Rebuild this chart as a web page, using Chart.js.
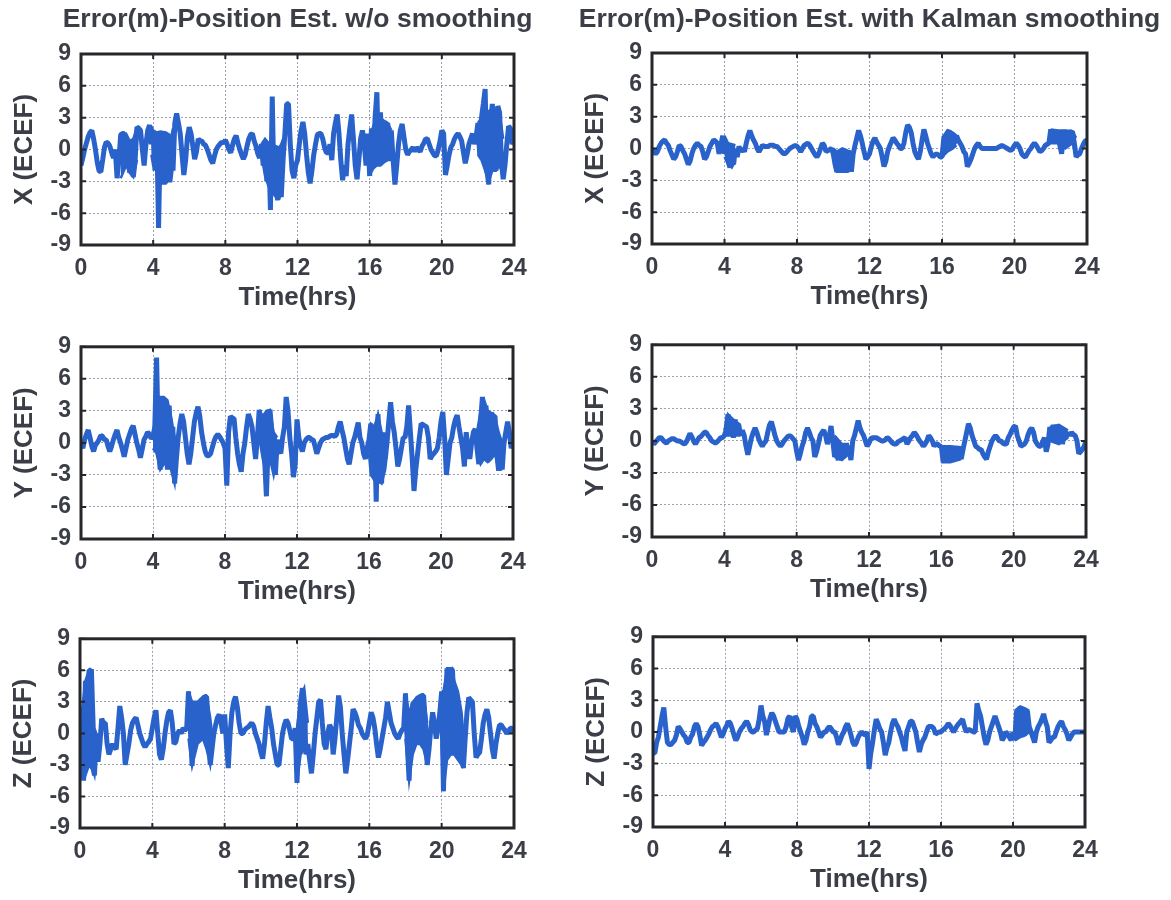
<!DOCTYPE html>
<html>
<head>
<meta charset="utf-8">
<script src="https://cdn.jsdelivr.net/npm/chart.js@4.4.1/dist/chart.umd.min.js"></script>
<style>
html,body{margin:0;padding:0;background:#ffffff;}
#wrap{position:relative;width:1171px;height:900px;overflow:hidden;background:#ffffff;}
canvas{position:absolute;}
</style>
</head>
<body>
<div id="wrap"></div>
<script>
// ---------------- data ----------------
const STEP = 0.1; // hours between samples
const xTicks = [0, 4, 8, 12, 16, 20, 24];
const yTicks = [-9, -6, -3, 0, 3, 6, 9];
const colTitles = ['Error(m)-Position Est. w/o smoothing', 'Error(m)-Position Est. with Kalman smoothing'];
const rowLabels = ['X (ECEF)', 'Y (ECEF)', 'Z (ECEF)'];
const xAxisLabel = 'Time(hrs)';

const xRaw = [
-1.5,-0.8,0.0,0.6,1.2,1.6,1.8,1.0,0.0,-1.2,
-2.0,-2.1,-1.0,0.2,0.7,0.6,0.3,-0.3,-0.8,0.0,
-2.7,-1.0,1.4,1.5,1.5,-1.5,0.5,-2.2,0.8,-2.6,
-1.0,2.1,2.0,1.8,0.0,-1.5,0.5,1.8,2.3,0.5,
1.6,-2.0,1.5,-7.4,1.7,-3.2,1.6,-3.0,1.5,-3.0,
1.2,-2.0,2.5,3.4,2.5,1.5,-0.5,-2.4,-1.0,1.2,
2.1,1.5,0.3,-0.9,-0.2,1.0,0.8,0.8,0.5,0.4,
0.0,-0.5,-1.0,-1.3,-0.6,0.0,0.3,0.5,0.7,0.6,
0.9,0.5,0.0,-0.3,0.4,1.0,1.3,0.6,0.0,-0.5,
-0.9,-0.5,0.3,1.0,1.4,1.5,0.8,0.3,-0.4,-0.8,
0.5,-1.5,0.8,-3.0,0.5,-5.7,5.0,-3.8,0.2,-4.8,
0.0,-4.5,-1.0,1.5,4.3,4.3,0.5,-2.0,-2.7,-1.5,
-1.0,0.5,1.8,2.6,1.5,-0.5,-2.2,-3.2,-2.0,-0.5,
0.5,1.4,1.5,1.5,1.0,0.2,-0.3,-0.3,0.5,-1.0,
1.5,2.5,3.3,1.5,-1.0,-2.9,-1.5,-2.5,0.5,2.0,
3.3,1.0,-1.5,-2.8,-1.0,1.0,1.8,0.5,-1.5,1.5,
-2.5,2.0,-1.5,3.0,5.4,-1.5,3.5,-1.2,2.7,-1.0,
2.5,-0.8,1.8,-1.0,-3.3,-1.5,0.5,1.8,2.4,1.2,
0.0,-0.5,-0.2,0.0,0.2,-0.2,0.2,0.0,-0.2,0.3,
0.6,1.0,1.0,0.5,0.0,-0.3,-0.6,-0.6,0.0,0.8,
1.8,1.5,-2.4,-1.5,-0.5,0.2,0.5,1.0,1.3,1.5,
1.2,0.8,-0.3,-1.3,-0.5,0.5,1.0,1.5,0.5,1.2,
2.5,-0.5,3.0,4.3,5.7,-2.0,-3.3,2.5,4.3,-1.0,
-2.0,4.1,3.5,-1.0,-2.8,-1.5,0.5,2.2,2.0,0.5,
1.0];

const yRaw = [
0.0,-0.5,0.3,0.8,1.2,0.5,-0.3,-0.8,-0.2,0.0,
0.3,0.7,0.6,0.3,0.3,-0.3,-0.8,-0.3,0.3,0.8,
1.2,0.5,0.0,-0.6,-1.3,-0.5,0.3,0.8,1.3,1.6,
0.8,0.0,-0.6,-1.4,-0.6,0.3,0.6,1.0,0.8,0.4,
0.6,1.5,8.0,-0.5,-2.5,4.3,-2.0,4.0,-2.5,3.5,
-1.0,1.5,-3.8,-1.5,0.5,1.8,2.7,2.0,0.5,-1.0,
-2.0,-1.0,0.5,2.0,2.8,3.4,2.5,1.0,0.0,-0.8,
-1.2,-1.2,-1.0,-0.4,0.2,0.6,0.8,0.6,0.3,0.0,
-0.5,-4.0,1.0,2.5,2.3,2.3,0.5,-1.0,-2.0,-2.7,
-1.0,0.0,1.5,2.7,2.2,1.5,0.0,-1.5,0.5,3.1,
1.5,0.5,-1.5,-5.0,0.0,3.1,1.0,-1.5,-3.0,0.3,
-0.5,-1.0,0.5,1.5,4.3,3.0,0.5,-1.0,-3.2,-2.0,
2.2,0.5,-0.3,-0.8,0.0,0.3,0.5,0.5,0.3,0.3,
-0.3,-1.0,-0.5,0.0,0.3,0.4,0.5,0.5,0.6,0.7,
0.7,0.6,0.8,1.5,2.0,1.2,0.5,-0.5,-1.5,-2.0,
-1.0,0.0,0.5,1.2,1.9,0.5,0.0,-1.0,-1.5,-0.5,
0.3,1.8,-3.0,1.5,-5.5,2.7,-2.5,-3.8,1.0,-1.5,
0.0,2.0,3.8,2.0,1.0,-0.5,-2.2,-1.5,-0.5,0.5,
0.5,1.5,3.5,1.0,-1.5,-4.5,-2.5,-1.0,0.5,1.8,
1.7,1.6,1.5,0.5,-1.5,-1.2,-1.0,-0.8,-0.5,0.5,
2.0,2.9,0.5,-3.0,-1.5,0.0,0.5,1.5,2.2,2.6,
1.5,0.5,-0.5,-2.2,1.0,-0.5,-1.5,0.0,1.0,1.3,
-0.5,-2.0,2.0,4.3,2.5,3.5,-1.8,1.0,2.8,2.5,
2.5,-1.0,-2.6,-0.5,-2.5,0.0,1.0,2.0,1.0,-0.5,
0.0];

const zRaw = [
-3.0,2.0,-4.5,5.0,2.0,6.0,6.0,-3.0,-4.0,0.0,
-2.7,-1.0,1.4,1.0,1.0,-1.0,-2.0,-1.5,-1.0,-1.3,
-1.5,0.5,2.6,1.5,0.0,-3.0,-2.0,-1.0,0.3,1.0,
1.3,1.5,0.8,0.0,-0.5,-1.0,-1.3,-1.0,-0.8,-0.5,
0.5,1.5,2.2,0.0,-2.0,-2.5,-1.5,0.0,1.2,2.0,
2.2,1.0,-1.0,-0.8,0.0,0.3,0.0,0.5,0.3,0.5,
4.0,0.5,-3.1,1.0,3.0,2.5,1.5,2.5,3.0,3.5,
3.5,1.0,-3.0,-1.5,0.0,0.8,1.5,1.8,1.0,0.0,
1.8,-1.0,-3.3,0.0,2.0,3.0,3.5,2.5,1.0,0.0,
0.0,0.3,0.5,0.6,0.8,1.0,0.7,0.0,-0.5,-1.0,
-1.8,-2.4,-1.0,1.0,2.6,1.5,0.5,-1.0,-2.0,-3.0,
-3.0,-1.5,0.0,0.8,1.3,1.0,0.3,-0.5,-0.5,0.5,
-4.7,0.5,3.0,4.3,1.0,-2.0,-1.0,-2.5,-3.8,-2.0,
0.0,1.5,3.0,3.2,1.0,-1.0,-1.5,0.0,0.8,0.5,
-2.0,-0.5,1.5,3.6,2.5,0.0,-2.0,-3.8,-2.5,-1.0,
0.5,2.3,2.0,1.5,0.8,0.5,0.0,-0.3,-0.5,0.0,
1.0,2.0,1.5,0.5,-1.0,-2.3,-1.5,-0.5,0.5,1.5,
3.0,2.0,1.0,0.5,0.0,-0.3,-0.5,0.0,0.3,0.5,
3.8,-1.0,-4.5,1.0,2.8,3.0,3.2,3.4,3.5,3.6,
3.6,1.0,-3.0,-1.5,0.5,2.0,1.0,-0.5,0.5,2.0,
4.0,-5.5,2.0,6.2,-1.5,6.2,6.0,2.0,4.0,1.0,
-2.5,-1.5,-3.3,-0.5,2.0,3.4,3.2,3.0,0.0,-2.3,
-2.0,-1.8,-0.5,1.0,1.8,2.3,1.5,0.0,-1.5,-2.4,
-1.0,0.0,0.8,0.8,0.5,0.3,0.0,0.2,0.5,0.5,
0.0];

const xSmooth = [
0.0,-0.3,-0.5,-0.3,0.2,0.5,0.7,0.8,0.5,0.3,
-0.2,-0.6,-1.0,-0.8,-0.3,0.3,0.2,-0.2,-0.5,-1.0,
-1.5,-1.2,-0.5,0.0,0.3,0.5,0.3,0.2,-0.3,-1.0,
-0.8,-0.3,0.2,0.5,0.8,0.7,0.5,-0.5,0.3,1.2,
-0.5,0.3,-1.2,-1.8,0.3,-1.5,0.0,-0.8,0.2,-0.3,
0.0,-0.3,0.5,1.2,1.7,1.2,0.8,0.5,0.0,-0.3,
0.0,0.3,0.2,0.2,0.2,0.3,0.3,0.3,0.2,0.2,
0.0,-0.2,-0.4,-0.5,-0.4,-0.2,0.0,0.1,0.2,0.3,
0.2,0.0,-0.3,0.0,0.3,0.4,0.5,0.3,0.0,-0.3,
-0.6,-0.8,-0.5,0.0,0.5,0.3,-0.3,-0.2,-0.1,0.0,
-0.5,-1.5,-2.2,-0.5,-1.8,-0.3,-2.2,-0.6,-2.0,-0.5,
-2.2,-0.5,0.3,1.0,1.7,1.2,0.5,-0.3,-1.0,-0.8,
-0.5,0.2,0.7,1.0,0.6,0.3,0.0,-0.8,-1.7,-1.2,
-0.3,0.2,0.6,1.0,0.8,0.5,0.3,0.0,0.0,0.5,
1.5,2.2,2.0,1.5,0.5,-0.3,-0.7,-1.0,-0.3,0.8,
1.8,1.2,0.5,0.0,-0.5,-0.8,-0.6,-0.5,-0.6,-0.8,
-0.8,1.0,0.0,1.5,1.7,0.2,1.4,0.5,1.2,0.8,
0.5,0.2,-0.3,-0.5,-1.7,-1.4,-1.0,-0.5,0.0,0.3,
0.5,0.2,0.0,0.0,0.0,0.0,0.0,0.0,0.0,0.0,
0.0,0.1,0.2,0.3,0.2,0.1,0.0,-0.1,-0.2,0.0,
0.3,0.5,0.3,0.0,-0.5,-0.7,-0.8,-0.5,-0.2,0.0,
0.3,0.5,0.3,0.0,-0.3,-0.2,0.0,0.3,0.4,0.5,
1.8,0.8,1.7,1.0,1.6,0.3,-0.5,1.2,1.7,1.0,
1.6,1.5,1.6,0.5,-0.8,-0.6,-0.5,0.0,0.4,0.7,
0.8];

const ySmooth = [
0.0,-0.3,-0.1,0.1,0.3,0.3,0.1,-0.1,-0.2,0.0,
0.1,0.2,0.2,0.1,0.0,0.0,-0.1,-0.2,-0.3,-0.1,
0.3,0.7,0.4,0.0,-0.3,0.0,0.3,0.4,0.6,0.8,
0.8,0.5,0.3,0.0,-0.1,-0.2,-0.1,0.1,0.3,0.3,
0.5,1.0,2.5,0.5,2.0,0.3,2.0,0.5,1.5,0.5,
1.0,0.5,-0.5,-1.3,-0.5,0.3,0.8,1.2,0.8,0.2,
-0.2,-0.5,-0.2,0.0,0.8,1.5,1.8,1.2,0.5,0.0,
-0.3,-0.5,-0.3,0.0,0.2,0.4,0.5,0.4,0.2,0.0,
-1.0,-1.8,-1.2,-0.5,0.0,0.8,1.2,0.8,0.3,0.0,
-1.5,-1.0,-0.3,0.5,0.8,1.0,0.5,-0.3,0.3,1.4,
0.0,-1.5,-1.0,-1.8,-0.3,-1.5,-0.3,-1.2,-0.5,-0.8,
-1.8,0.0,0.5,1.2,1.9,1.2,0.8,0.5,0.0,-0.5,
-0.2,0.2,0.3,0.3,0.3,0.2,0.1,0.0,0.0,0.1,
0.3,0.2,0.0,-0.2,-0.3,-0.3,-0.1,0.0,0.1,0.2,
0.3,-0.3,0.0,0.3,0.5,0.8,0.6,0.3,0.0,-0.2,
-0.5,-0.3,0.0,0.5,0.3,0.0,-0.5,-0.3,-0.3,-0.5,
-0.5,-2.0,-0.5,-2.0,-0.6,-1.9,-0.7,-1.8,-0.5,-1.8,
-0.6,-1.7,-0.8,0.0,0.8,1.6,1.2,0.5,0.0,-0.5,
-0.6,-0.8,-0.8,-1.2,-1.5,-1.7,-1.0,-0.5,0.0,0.3,
0.5,0.3,0.0,0.0,-0.2,-0.3,-0.3,0.3,0.6,1.0,
1.3,1.4,0.5,0.0,-0.5,-0.4,-0.3,0.0,0.6,1.0,
1.2,0.8,0.0,-0.3,-0.5,-0.5,-0.1,0.3,-1.0,-0.3,
1.3,0.2,1.5,0.3,1.2,0.0,1.3,-0.3,1.0,0.3,
0.8,0.5,0.8,0.6,0.5,0.0,-1.2,-1.0,-0.8,-0.5,
0.0];

const zSmooth = [
-2.0,-2.0,-1.0,-0.5,0.5,1.5,2.3,0.5,-1.0,-1.2,
-1.2,-1.0,-0.8,-0.3,0.5,0.3,0.0,-0.3,-0.5,-1.0,
-1.0,-0.5,-0.2,0.5,0.8,0.5,-0.3,-1.3,-1.0,-0.8,
-0.5,-0.2,0.2,0.5,0.6,0.8,0.5,0.0,-0.5,-0.2,
0.3,0.6,1.0,0.8,0.3,-0.3,-0.8,-0.5,0.0,0.3,
0.5,0.8,1.0,0.7,0.2,0.0,0.0,0.2,0.3,1.2,
2.5,1.5,1.0,-0.3,0.5,1.3,1.8,1.5,1.0,0.5,
0.0,0.0,0.0,0.0,0.5,1.3,1.5,0.5,0.0,1.5,
1.2,0.5,0.0,-0.5,-1.2,-0.8,0.0,0.5,1.5,1.5,
0.8,0.5,0.0,-0.5,-0.3,0.0,0.0,0.3,0.5,0.3,
0.0,0.0,-0.5,-1.2,-0.8,-0.3,0.0,0.5,0.8,0.3,
-0.3,-1.0,-1.3,-1.0,-0.5,-0.2,0.0,-0.2,-0.3,0.0,
-3.5,-2.0,-1.0,0.2,1.2,0.8,0.3,0.0,-1.0,-2.2,
-1.5,-1.0,0.0,0.8,1.2,0.8,0.5,0.0,-0.5,-1.2,
-1.8,0.0,0.5,1.0,1.0,0.5,0.0,-1.0,-1.9,-1.2,
-0.8,-0.5,0.0,0.5,0.5,0.5,0.3,-0.2,-0.1,0.0,
0.0,0.2,0.3,0.5,0.8,0.6,0.3,0.0,0.3,0.6,
0.8,1.0,1.2,0.5,0.0,0.2,0.2,0.1,0.0,0.0,
2.7,2.0,1.5,0.5,-0.5,-1.2,-0.8,0.0,0.5,1.0,
1.5,1.0,0.5,0.0,-0.8,-0.5,0.0,-0.2,-0.5,-0.8,
0.0,-0.8,2.0,0.0,2.4,-0.5,2.2,0.0,2.0,0.5,
0.0,-0.5,-1.0,0.0,0.5,0.8,1.2,1.7,1.0,0.5,
-1.0,-0.8,-0.5,-0.5,0.0,0.5,0.8,1.0,0.5,0.2,
-0.2,-0.8,-0.5,-0.2,0.0,0.0,0.0,0.0,0.0,0.0,
0.0];

// Dense-noise envelopes (hours, lower edge, upper edge); null separates bursts
const xRawBandT  = [2.2,2.5,2.7,2.9,3.1, null, 3.9,4.0,4.2,4.4,4.7,4.8,5.0,5.1, null, 10.0,10.2,10.4,10.6,10.8,11.0,11.1,11.2, null, 16.0,16.2,16.4,16.6,16.8,17.0,17.2, null, 22.0,22.2,22.4,22.6,22.8,23.0,23.2,23.4];
const xRawBandLo = [-2.7,-1.5,-2.2,-2.6,-1.0, null, -0.5,-1.5,-2.0,-3.2,-3.2,-3.0,-3.0,-1.5, null, -0.5,-2.5,-3.5,-4.0,-4.5,-4.6,-4.0,-2.0, null, -2.4,-1.8,-1.5,-1.5,-1.2,-1.0,-1.0, null, -0.5,-1.0,-2.0,-3.0,-2.0,-2.0,-1.5,-2.5];
const xRawBandHi = [1.4,1.5,0.8,1.0,2.1, null, 2.2,1.8,1.6,1.7,1.6,1.5,1.2,2.0, null, 0.5,1.0,0.6,0.5,0.3,0.2,0.5,1.0, null, 1.0,2.2,3.0,3.0,2.7,2.5,1.8, null, 2.5,3.0,4.0,3.5,4.0,3.8,3.5,1.0];

const yRawBandT  = [4.0,4.2,4.4,4.6,4.8,5.0,5.2,5.3, null, 9.9,10.1,10.3,10.5,10.7,10.9, null, 16.0,16.1,16.3,16.5,16.7,16.9,17.0, null, 22.0,22.2,22.4,22.6,22.8,23.0,23.2,23.4];
const yRawBandLo = [-0.5,-1.0,-2.5,-2.0,-2.0,-2.5,-3.8,-1.5, null, 0.5,-1.5,-3.0,-1.5,-3.0,-1.0, null, -1.0,-3.0,-3.5,-3.5,-3.8,-2.5,-1.0, null, -1.0,-2.0,-1.5,-1.8,-1.5,-1.0,-2.5,-2.5];
const yRawBandHi = [1.0,3.0,4.3,4.3,4.0,2.5,0.5,0.5, null, 3.1,2.5,3.0,3.1,1.0,0.5, null, 1.0,1.8,1.5,2.7,1.0,0.5,0.5, null, 1.0,3.0,4.0,3.0,2.8,2.5,1.0,0.0];

const zRawBandT  = [0.1,0.3,0.5,0.7,0.8,0.9, null, 6.0,6.2,6.5,6.8,7.0,7.2,7.3, null, 12.0,12.2,12.4,12.6, null, 18.0,18.2,18.4,18.6,18.8,19.0,19.2, null, 20.0,20.1,20.3,20.5,20.7,20.9,21.1,21.2];
const zRawBandLo = [-3.0,-4.0,-3.0,-3.5,-4.0,-2.0, null, -0.5,-3.1,-1.0,-0.5,-1.5,-3.0,-1.5, null, -4.7,-2.0,-1.5,-2.0, null, -0.5,-4.5,-2.0,-1.0,-1.0,-1.5,-3.0, null, -1.0,-5.5,-2.5,-2.0,-2.0,-2.5,-3.0,-3.3];
const zRawBandHi = [2.0,5.0,6.0,6.0,0.5,0.0, null, 4.0,3.0,3.0,3.5,3.5,1.5,0.0, null, 0.5,3.5,4.3,1.0, null, 3.8,2.0,2.8,3.4,3.5,3.6,1.0, null, 4.0,4.0,6.2,6.2,5.0,4.0,2.0,0.0];

const xSmBandT  = [4.0,4.2,4.4,4.6, null, 10.0,10.2,10.5,10.8,11.0, null, 16.0,16.3,16.6,16.8, null, 22.0,22.4,22.8,23.2,23.4];
const xSmBandLo = [-0.8,-1.5,-1.8,-1.2, null, -0.8,-2.2,-2.2,-2.2,-2.0, null, -0.8,-0.3,0.0,0.3, null, 0.5,0.5,0.0,0.5,-0.5];
const xSmBandHi = [1.2,0.5,0.4,0.3, null, 0.0,-0.3,0.0,-0.2,-0.3, null, 1.0,1.7,1.5,1.2, null, 1.8,1.7,1.7,1.6,1.0];

const ySmBandT  = [4.0,4.2,4.5,4.9, null, 10.1,10.5,10.9, null, 16.0,16.5,17.1, null, 22.0,22.5,23.0];
const ySmBandLo = [0.5,0.5,0.5,0.5, null, -1.5,-1.8,-1.2, null, -2.0,-2.0,-1.7, null, 0.0,-0.3,0.3];
const ySmBandHi = [1.0,2.5,2.0,1.5, null, 0.5,-0.3,-0.3, null, -0.5,-0.5,-0.6, null, 1.3,1.5,1.0];

const zSmBandT  = [20.1,20.4,20.7,20.9];
const zSmBandLo = [-0.8,-0.5,-0.3,0.0];
const zSmBandHi = [2.0,2.4,2.2,2.0];

// ---------------- layout / style ----------------
const TEXT = '#3b3e46';
const BLUE = '#2962cb';
const FONT = '"Liberation Sans", Arial, Helvetica, sans-serif';
const SIDE = 80;   // space left and right of each plot box
const BELOW = 70;  // space under each plot box

const panels = [
  {box:{L:81, T:54, R:514, B:245}, data:xRaw,    band:[xRawBandT, xRawBandLo, xRawBandHi], ylab:rowLabels[0], title:colTitles[0]},
  {box:{L:652,T:53, R:1087,B:244}, data:xSmooth, band:[xSmBandT, xSmBandLo, xSmBandHi],   ylab:rowLabels[0], title:colTitles[1]},
  {box:{L:81, T:345,R:513, B:539}, data:yRaw,    band:[yRawBandT, yRawBandLo, yRawBandHi], ylab:rowLabels[1]},
  {box:{L:652,T:343,R:1086,B:537}, data:ySmooth, band:[ySmBandT, ySmBandLo, ySmBandHi],   ylab:rowLabels[1]},
  {box:{L:80, T:637,R:514, B:828}, data:zRaw,    band:[zRawBandT, zRawBandLo, zRawBandHi], ylab:rowLabels[2]},
  {box:{L:653,T:635,R:1085,B:827}, data:zSmooth, band:[zSmBandT, zSmBandLo, zSmBandHi],   ylab:rowLabels[2]}
];

const boxPlugin = {
  id: 'matlabBox',
  afterDatasetsDraw(chart) {
    const {ctx, chartArea: a, scales: {x, y}} = chart;
    ctx.save();
    ctx.strokeStyle = '#25272b';
    ctx.lineWidth = 3;
    ctx.strokeRect(a.left, a.top, a.right - a.left, a.bottom - a.top);
    ctx.lineWidth = 2;
    ctx.beginPath();
    xTicks.forEach(v => {
      const px = x.getPixelForValue(v);
      ctx.moveTo(px, a.top); ctx.lineTo(px, a.top + 5);
      ctx.moveTo(px, a.bottom); ctx.lineTo(px, a.bottom - 5);
    });
    yTicks.forEach(v => {
      const py = y.getPixelForValue(v);
      ctx.moveTo(a.left, py); ctx.lineTo(a.left + 5, py);
      ctx.moveTo(a.right, py); ctx.lineTo(a.right - 5, py);
    });
    ctx.stroke();
    ctx.restore();
  }
};

function bandDatasets(band) {
  const [T, LO, HI] = band;
  const sets = [];
  let cur = null;
  T.forEach((t, i) => {
    if (t === null) { cur = null; return; }
    if (!cur) {
      cur = {lo: [], hi: []};
      sets.push(cur);
    }
    cur.lo.push({x: t, y: LO[i]});
    cur.hi.push({x: t, y: HI[i]});
  });
  const out = [];
  sets.forEach(s => {
    out.push({data: s.lo, borderColor: BLUE, borderWidth: 2.5, pointRadius: 0, tension: 0, fill: false, yAxisID: 'y'});
    out.push({data: s.hi, borderColor: BLUE, borderWidth: 2.5, pointRadius: 0, tension: 0, fill: '-1', backgroundColor: BLUE, yAxisID: 'y'});
  });
  return out;
}

const wrap = document.getElementById('wrap');

panels.forEach(p => {
  const b = p.box;
  const above = p.title ? b.T : 22;
  const w = (b.R - b.L) + 2 * SIDE;
  const h = (b.B - b.T) + above + BELOW;
  const c = document.createElement('canvas');
  c.width = w; c.height = h;
  c.style.width = w + 'px'; c.style.height = h + 'px';
  c.style.left = (b.L - SIDE) + 'px';
  c.style.top = (b.T - above) + 'px';
  wrap.appendChild(c);

  const titleFontSize = 26.5;
  const titleLine = titleFontSize * 1.2;
  const titleTop = 4;

  const datasets = bandDatasets(p.band);
  datasets.push({
    data: p.data.map((v, i) => ({x: Math.round(i * STEP * 10) / 10, y: v})),
    borderColor: BLUE,
    borderWidth: 5,
    borderJoinStyle: 'bevel',
    pointRadius: 0,
    tension: 0,
    fill: false,
    yAxisID: 'y'
  });

  new Chart(c, {
    type: 'line',
    data: {datasets},
    options: {
      responsive: false,
      animation: false,
      devicePixelRatio: 1,
      events: [],
      layout: {autoPadding: false, padding: {left: 0, right: 0, top: p.title ? 0 : above, bottom: 0}},
      plugins: {
        legend: {display: false},
        tooltip: {enabled: false},
        title: p.title ? {
          display: true,
          text: p.title,
          color: TEXT,
          font: {family: FONT, size: titleFontSize, weight: 'bold', lineHeight: 1.2},
          padding: {top: titleTop, bottom: b.T - titleLine - titleTop}
        } : {display: false}
      },
      scales: {
        x: {
          type: 'linear', min: 0, max: 24,
          afterBuildTicks: s => { s.ticks = xTicks.map(v => ({value: v})); },
          afterFit: s => { s.height = BELOW; },
          ticks: {color: TEXT, font: {family: FONT, size: 23, weight: 'bold'}, padding: 10, maxRotation: 0, autoSkip: false},
          grid: {drawTicks: false, color: 'rgba(120,128,150,0.75)', lineWidth: 1},
          border: {display: false, dash: [2, 2]},
          title: {display: true, text: xAxisLabel, color: TEXT, font: {family: FONT, size: 26, weight: 'bold', lineHeight: 1.2}, padding: {top: 0, bottom: 2}}
        },
        y: {
          type: 'linear', position: 'left', min: -9, max: 9,
          afterBuildTicks: s => { s.ticks = yTicks.map(v => ({value: v})); },
          afterFit: s => { s.width = SIDE; },
          ticks: {color: TEXT, font: {family: FONT, size: 23, weight: 'bold'}, padding: 10, autoSkip: false},
          grid: {drawTicks: false, color: 'rgba(120,128,150,0.75)', lineWidth: 1},
          border: {display: false, dash: [2, 2]},
          title: {display: true, text: p.ylab, color: TEXT, font: {family: FONT, size: 26, weight: 'bold', lineHeight: 1.2}, padding: {top: 8, bottom: 0}}
        },
        yRight: {
          type: 'linear', position: 'right', min: -9, max: 9, display: true,
          afterFit: s => { s.width = SIDE; },
          ticks: {display: false},
          grid: {display: false, drawTicks: false},
          border: {display: false}
        }
      }
    },
    plugins: [boxPlugin]
  });
});
</script>
</body>
</html>
